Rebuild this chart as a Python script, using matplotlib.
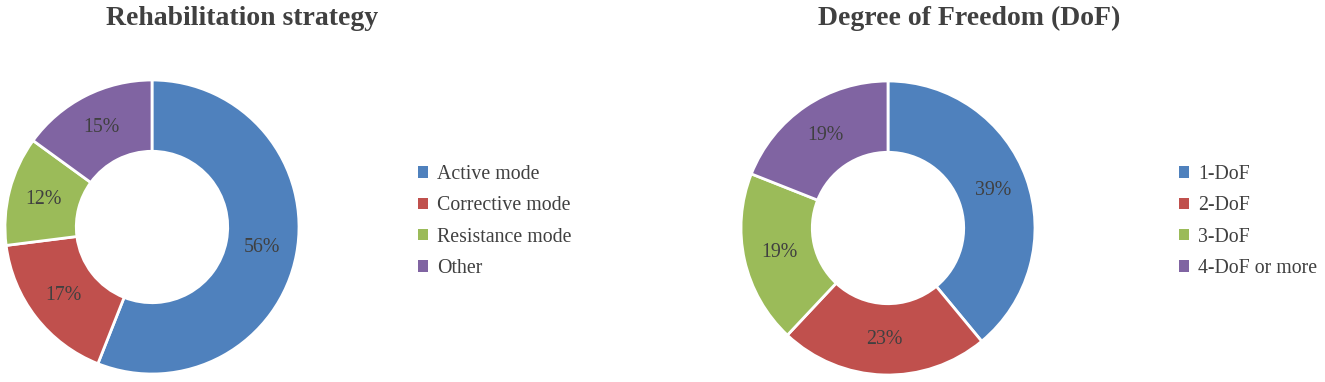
import matplotlib
matplotlib.use("Agg")
import numpy as np
import matplotlib.pyplot as plt
from matplotlib.patches import Patch

plt.rcParams['font.family'] = ['Liberation Serif', 'DejaVu Serif']

# Data
left_title = "Rehabilitation strategy"
left_labels = ["Active mode", "Corrective mode", "Resistance mode", "Other"]
left_values = [56, 17, 12, 15]

right_title = "Degree of Freedom (DoF)"
right_labels = ["1-DoF", "2-DoF", "3-DoF", "4-DoF or more"]
right_values = [39, 23, 19, 19]

colors = ["#4F81BD", "#C0504D", "#9BBB59", "#8064A2"]
text_color = "#404040"

W, H = 1325, 382
fig = plt.figure(figsize=(W / 100, H / 100), dpi=100)


def px_axes(cx, cy, r):
    return fig.add_axes([(cx - r) / W, (H - cy - r) / H, 2 * r / W, 2 * r / H])


def donut(cx, cy, r, values, labels, title, title_x, leg_x):
    ax = px_axes(cx, cy, r)
    wedges, texts = ax.pie(values, colors=colors, startangle=90, counterclock=False,
                           radius=1.0,
                           wedgeprops=dict(width=0.485, edgecolor="white", linewidth=2))
    for w, v in zip(wedges, values):
        ang = np.deg2rad((w.theta1 + w.theta2) / 2)
        ax.text(0.76 * np.cos(ang), 0.76 * np.sin(ang), f"{v}%", ha="center", va="center",
                fontsize=14.3, color=text_color)
    ax.set_xlim(-1, 1)
    ax.set_ylim(-1, 1)
    ax.set_aspect("equal")
    ax.axis("off")
    fig.text(title_x / W, 1 - 25 / H, title, ha="left", va="baseline", fontsize=20,
             fontweight="bold", color=text_color)
    handles = [Patch(facecolor=c, edgecolor="none") for c in colors]
    fig.legend(handles, labels, loc="center left",
               bbox_to_anchor=(leg_x / W, 1 - 221.5 / H), frameon=False,
               fontsize=14.3, handlelength=0.5, handleheight=0.5,
               handletextpad=0.46, labelspacing=0.62, borderpad=0,
               borderaxespad=0, labelcolor=text_color)


donut(152, 227, 147, left_values, left_labels, left_title, 106, 418)
donut(888, 228, 147, right_values, right_labels, right_title, 818, 1179)

fig.savefig("out.png", dpi=100, facecolor="white")
